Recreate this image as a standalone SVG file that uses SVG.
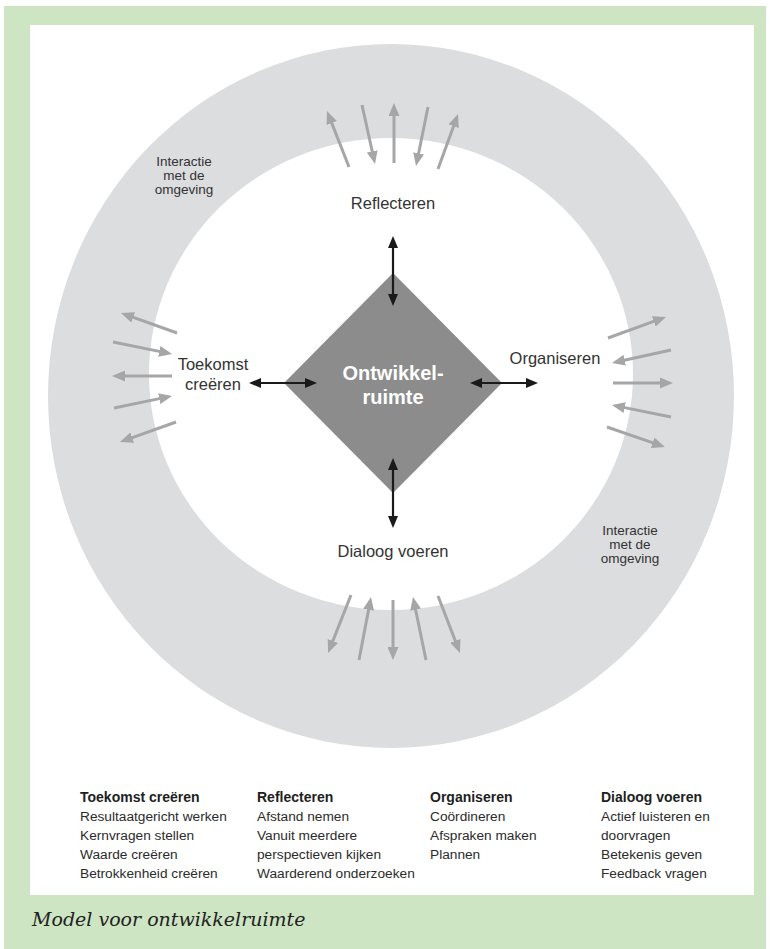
<svg xmlns="http://www.w3.org/2000/svg" width="770" height="949" viewBox="0 0 770 949">
  <style>
    .lbl { font-family: "Liberation Sans", Arial, sans-serif; fill: #333333; text-anchor: middle; }
    .main { font-size: 16.5px; }
    .small { font-size: 13.5px; }
    .core { font-family: "Liberation Sans", Arial, sans-serif; font-weight: bold; font-size: 20px; fill: #ffffff; text-anchor: middle; }
    .leg { font-family: "Liberation Sans", Arial, sans-serif; font-size: 13.7px; fill: #2b2b2b; }
    .leg .hd { font-weight: bold; font-size: 14px; fill: #1e1e1e; }
    .flow { stroke: #a6a6a6; stroke-width: 3; fill: none; marker-end: url(#grayHead); }
    .link { stroke: #1a1a1a; stroke-width: 2.2; fill: none; marker-start: url(#blackHead); marker-end: url(#blackHead); }
    .caption { font-family: "DejaVu Serif", "Liberation Serif", serif; font-style: italic; font-size: 19px; fill: #222222; }
  </style>
  <defs>
    <marker id="grayHead" markerUnits="userSpaceOnUse" viewBox="0 0 13 11" markerWidth="13" markerHeight="11" refX="5" refY="5.5" orient="auto">
      <path d="M0,0 L13,5.5 L0,11 z" fill="#a6a6a6"/>
    </marker>
    <marker id="blackHead" markerUnits="userSpaceOnUse" viewBox="0 0 12 10" markerWidth="12" markerHeight="10" refX="5" refY="5" orient="auto-start-reverse">
      <path d="M0,0 L12,5 L0,10 z" fill="#1a1a1a"/>
    </marker>
  </defs>

  <!-- frame -->
  <rect x="4" y="6" width="762" height="943" fill="#cde5c3"/>
  <rect x="30" y="25" width="724" height="870" fill="#ffffff"/>

  <!-- surrounding ring -->
  <g id="ring">
    <ellipse cx="391" cy="396" rx="343" ry="352" fill="#dcdddf"/>
    <ellipse cx="391" cy="374" rx="242" ry="236" fill="#ffffff"/>
  </g>

  <!-- environment labels -->
  <g id="interactie-top">
    <text class="lbl small" x="184" y="166">Interactie</text>
    <text class="lbl small" x="184" y="180">met de</text>
    <text class="lbl small" x="184" y="194">omgeving</text>
  </g>
  <g id="interactie-bottom">
    <text class="lbl small" x="630" y="535">Interactie</text>
    <text class="lbl small" x="630" y="549">met de</text>
    <text class="lbl small" x="630" y="563">omgeving</text>
  </g>

  <!-- centre -->
  <g id="ontwikkelruimte">
    <polygon points="393,273 502,383 393,493 284,383" fill="#8c8c8c"/>
    <text class="core" x="393" y="380">Ontwikkel-</text>
    <text class="core" x="393" y="404">ruimte</text>
  </g>

  <g id="reflecteren">
    <text class="lbl main" x="393" y="209">Reflecteren</text>
  </g>
  <g id="toekomst">
    <text class="lbl main" x="213" y="370">Toekomst</text>
    <text class="lbl main" x="213" y="390">creëren</text>
  </g>
  <g id="organiseren">
    <text class="lbl main" x="555" y="364">Organiseren</text>
  </g>
  <g id="dialoog">
    <text class="lbl main" x="393" y="557">Dialoog voeren</text>
  </g>

  <g id="connectors">
    <!-- centre links -->
    <line class="link" x1="393" y1="243" x2="393" y2="299"/>
    <line class="link" x1="393" y1="465" x2="393" y2="521"/>
    <line class="link" x1="256" y1="383" x2="310" y2="383"/>
    <line class="link" x1="477" y1="383" x2="531" y2="383"/>

    <!-- top exchange -->
    <line class="flow" x1="349" y1="167" x2="329.9" y2="118.4"/>
    <line class="flow" x1="362" y1="105" x2="373.3" y2="156.2"/>
    <line class="flow" x1="394" y1="163" x2="394" y2="111"/>
    <line class="flow" x1="428" y1="107" x2="417.6" y2="158.2"/>
    <line class="flow" x1="438" y1="169" x2="455.3" y2="121.5"/>

    <!-- left exchange -->
    <line class="flow" x1="177" y1="333" x2="128.5" y2="315.7"/>
    <line class="flow" x1="113" y1="342" x2="164.2" y2="352.4"/>
    <line class="flow" x1="172" y1="376" x2="120" y2="376"/>
    <line class="flow" x1="114" y1="408" x2="164.2" y2="397.6"/>
    <line class="flow" x1="176" y1="422" x2="127.5" y2="439.3"/>

    <!-- right exchange -->
    <line class="flow" x1="608" y1="338" x2="658.5" y2="319.7"/>
    <line class="flow" x1="671" y1="350" x2="619.8" y2="361.3"/>
    <line class="flow" x1="613" y1="383" x2="665" y2="383"/>
    <line class="flow" x1="671" y1="417" x2="619.8" y2="406.6"/>
    <line class="flow" x1="607" y1="427" x2="657.4" y2="444.4"/>

    <!-- bottom exchange -->
    <line class="flow" x1="351" y1="595" x2="331" y2="645.6"/>
    <line class="flow" x1="359" y1="660" x2="369.5" y2="604.9"/>
    <line class="flow" x1="393" y1="600" x2="393" y2="652"/>
    <line class="flow" x1="426" y1="660" x2="414.6" y2="604.8"/>
    <line class="flow" x1="438" y1="596" x2="457.1" y2="645.5"/>
  </g>

  <!-- legend -->
  <g id="legend-toekomst" class="leg">
    <text class="hd" x="80" y="802">Toekomst creëren</text>
    <text x="80" y="821">Resultaatgericht werken</text>
    <text x="80" y="840">Kernvragen stellen</text>
    <text x="80" y="859">Waarde creëren</text>
    <text x="80" y="878">Betrokkenheid creëren</text>
  </g>
  <g id="legend-reflecteren" class="leg">
    <text class="hd" x="257" y="802">Reflecteren</text>
    <text x="257" y="821">Afstand nemen</text>
    <text x="257" y="840">Vanuit meerdere</text>
    <text x="257" y="859">perspectieven kijken</text>
    <text x="257" y="878">Waarderend onderzoeken</text>
  </g>
  <g id="legend-organiseren" class="leg">
    <text class="hd" x="430" y="802">Organiseren</text>
    <text x="430" y="821">Coördineren</text>
    <text x="430" y="840">Afspraken maken</text>
    <text x="430" y="859">Plannen</text>
  </g>
  <g id="legend-dialoog" class="leg">
    <text class="hd" x="601" y="802">Dialoog voeren</text>
    <text x="601" y="821">Actief luisteren en</text>
    <text x="601" y="840">doorvragen</text>
    <text x="601" y="859">Betekenis geven</text>
    <text x="601" y="878">Feedback vragen</text>
  </g>

  <text class="caption" x="32" y="926">Model voor ontwikkelruimte</text>
</svg>
